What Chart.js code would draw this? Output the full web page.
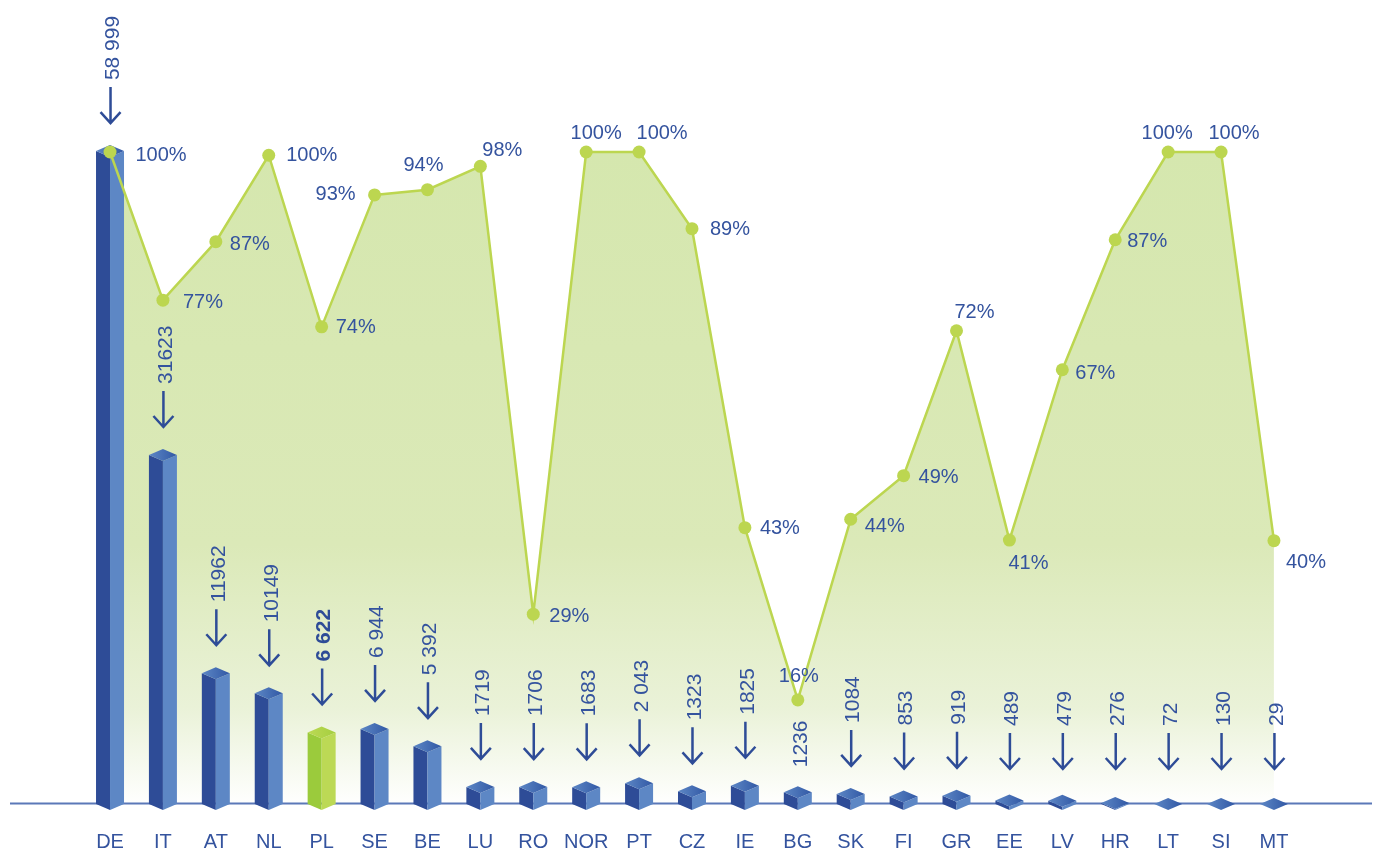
<!DOCTYPE html>
<html><head><meta charset="utf-8">
<style>html,body{margin:0;padding:0;background:#fff}canvas{display:block}</style>
<script src="https://cdn.jsdelivr.net/npm/chart.js@4"></script>
</head><body><canvas id="c" width="1377" height="855"></canvas>
<script>
const categories = ["DE","IT","AT","NL","PL","SE","BE","LU","RO","NOR","PT","CZ","IE","BG","SK","FI","GR","EE","LV","HR","LT","SI","MT"];
const volumes = [58999,31623,11962,10149,6622,6944,5392,1719,1706,1683,2043,1323,1825,1236,1084,853,919,489,479,276,72,130,29];
const volumeLabels = ["58 999","31623","11962","10149","6 622","6 944","5 392","1719","1706","1683","2 043","1323","1825","1236","1084","853","919","489","479","276","72","130","29"];
const shares = [100,77.2,86.2,99.5,73.1,93.4,94.2,97.8,28.9,100,100,88.2,42.2,15.7,43.5,50.2,72.5,40.3,66.5,86.5,100,100,40.2];
const shareLabels = ["100%","77%","87%","100%","74%","93%","94%","98%","29%","100%","100%","89%","43%","16%","44%","49%","72%","41%","67%","87%","100%","100%","40%"];
const highlight = "PL";
const noArrow = ["BG"];
// label placement relative to each point (layout only)
const shareLabelOffsets = [[51,3],[40,2],[34,3],[43,0],[34,1],[-39,0],[-4,-24],[22,-16],[36,2],[10,-19],[23,-19],[38,1],[35,1],[1,-23],[34,7],[35,2],[18,-18],[19,23],[33,4],[32,2],[-1,-19],[13,-19],[32,22]];

const BLUE="#2e4c97", BLUE_L="#5d87c5", GREEN_D="#9bcb3c", GREEN_L="#bcd955", LINE="#bcd650", AXIS="#5b78b8", TEXT="#34539e";
const FONT='"Liberation Sans", Arial, sans-serif';

function cuboid(ctx,x,yf,base,hi){
  const w=14,c=6;
  const yb=Math.max(yf,0);
  ctx.fillStyle=hi?GREEN_D:BLUE;
  ctx.beginPath();ctx.moveTo(x-w,yb-c);ctx.lineTo(x,yb);ctx.lineTo(x,base);ctx.lineTo(x-w,base-c);ctx.closePath();ctx.fill();
  ctx.fillStyle=hi?GREEN_L:BLUE_L;
  ctx.beginPath();ctx.moveTo(x+w,yb-c);ctx.lineTo(x,yb);ctx.lineTo(x,base);ctx.lineTo(x+w,base-c);ctx.closePath();ctx.fill();
  const g=ctx.createLinearGradient(x-w,0,x+w,0);
  if(hi){g.addColorStop(0,"#bcd955");g.addColorStop(1,"#a5cf3f");}
  else{g.addColorStop(0,"#5d87c5");g.addColorStop(1,"#3158a5");}
  ctx.fillStyle=g;
  ctx.beginPath();ctx.moveTo(x-w,yb-c);ctx.lineTo(x,yb-2*c);ctx.lineTo(x+w,yb-c);ctx.lineTo(x,yb);ctx.closePath();ctx.fill();
}
const cuboidPlugin={id:"cuboids",
  afterDatasetDraw(chart,args){
    if(args.meta.type!=="bar")return;
    const ctx=chart.ctx,base=chart.chartArea.bottom,y0=chart.scales.share.getPixelForValue(0)+1.5;
    ctx.save();
    ctx.strokeStyle=AXIS;ctx.lineWidth=2;
    ctx.beginPath();ctx.moveTo(10,y0);ctx.lineTo(1372,y0);ctx.stroke();
    args.meta.data.forEach((el,i)=>cuboid(ctx,el.x,Math.min(el.y,base),base,categories[i]===highlight));
    ctx.restore();
  }
};
const annotationPlugin={id:"annots",
  afterDraw(chart){
    const ctx=chart.ctx,bar=chart.getDatasetMeta(0).data,line=chart.getDatasetMeta(1).data;
    ctx.save();
    ctx.lineWidth=2.5;ctx.lineCap="butt";ctx.lineJoin="miter";
    bar.forEach((el,i)=>{
      const x=el.x+0.5,tipBar=Math.min(el.y,chart.chartArea.bottom)-12;
      let labelBottom;
      if(noArrow.includes(categories[i])){labelBottom=tipBar-19;}
      else{
        const tip=Math.min(tipBar-21,770),top=tip-37;
        ctx.strokeStyle=BLUE;
        ctx.beginPath();ctx.moveTo(x,top);ctx.lineTo(x,tip-1);
        ctx.moveTo(x-10,tip-12);ctx.lineTo(x,tip-1);ctx.lineTo(x+10,tip-12);ctx.stroke();
        labelBottom=top-7;
      }
      ctx.save();
      ctx.fillStyle=categories[i]===highlight?BLUE:TEXT;
      ctx.translate(x+2.5,labelBottom);ctx.rotate(-Math.PI/2);
      ctx.font=(categories[i]===highlight?"bold ":"")+"21px "+FONT;
      ctx.textAlign="left";ctx.textBaseline="middle";
      ctx.fillText(volumeLabels[i],0,0);
      ctx.restore();
    });
    ctx.fillStyle=TEXT;
    ctx.font="20px "+FONT;ctx.textAlign="center";ctx.textBaseline="middle";
    line.forEach((p,i)=>{
      const o=shareLabelOffsets[i];
      ctx.fillText(shareLabels[i],p.x+o[0],p.y+o[1]);
    });
    ctx.restore();
  }
};
new Chart(document.getElementById("c"),{
  data:{labels:categories,datasets:[
    {type:"bar",label:"Volume",data:volumes,yAxisID:"vol",backgroundColor:"transparent",borderWidth:0,barThickness:28,order:2},
    {type:"line",label:"Share",data:shares,yAxisID:"share",tension:0,borderColor:LINE,borderWidth:2.5,
     pointRadius:6.5,pointBackgroundColor:LINE,pointBorderWidth:0,order:1,fill:"origin",
     backgroundColor(ctx){
       const a=ctx.chart.chartArea;if(!a)return "#d8e8b0";
       const g=ctx.chart.ctx.createLinearGradient(0,152,0,806);
       g.addColorStop(0,"#d5e7ae");g.addColorStop(0.6,"#dbe9b8");g.addColorStop(0.85,"#eaf2d8");g.addColorStop(1,"#ffffff");
       return g;
     }}
  ]},
  plugins:[cuboidPlugin,annotationPlugin],
  options:{
    responsive:false,animation:false,
    layout:{autoPadding:false,padding:{left:83.57,right:76.6,top:0,bottom:0}},
    plugins:{legend:{display:false},tooltip:{enabled:false},filler:{drawTime:"beforeDatasetsDraw"}},
    scales:{
      x:{type:"category",offset:true,grid:{display:false,drawTicks:false},border:{display:false},
         afterFit(s){s.height=45;},
         ticks:{autoSkip:false,maxRotation:0,minRotation:0,padding:20,color:TEXT,font:{family:FONT,size:20}}},
      vol:{type:"linear",display:false,min:180,max:180+810/0.0111},
      share:{type:"linear",display:false,min:-8/6.5,max:802/6.5}
    }
  }
});
</script></body></html>
